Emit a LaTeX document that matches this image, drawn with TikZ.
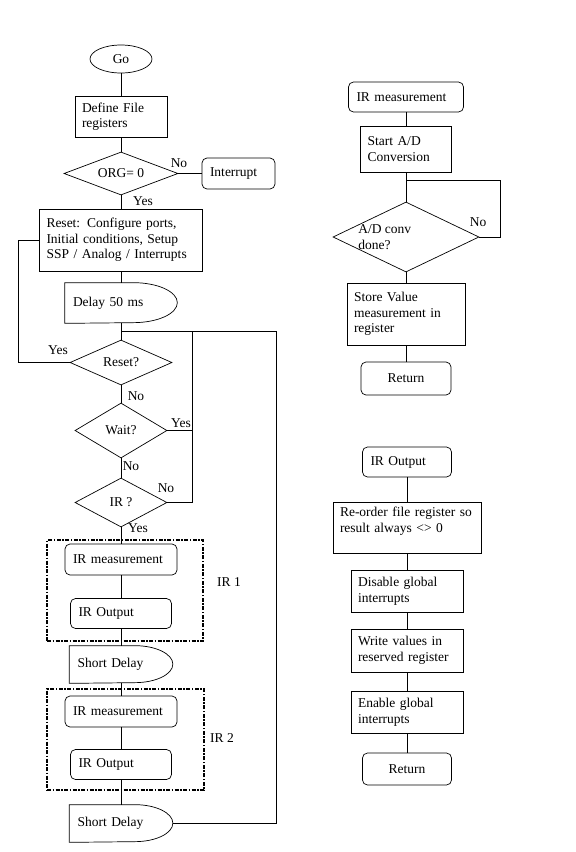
\documentclass[tikz,border=0pt]{standalone}
\usepackage{fontspec}
\setmainfont{Liberation Serif}
\usepackage{tikz}
\usetikzlibrary{shapes.geometric}

\begin{document}
\begin{tikzpicture}[x=1pt, y=-1pt, line width=0.7pt,
    every node/.style={font=\fontsize{13.5}{15.5}\selectfont},
    procbox/.style={draw, rectangle, align=left, inner xsep=7pt},
    subbox/.style={draw, rectangle, rounded corners=5pt, align=left, inner xsep=8pt},
    decision/.style={draw, diamond, shape aspect=2.5, inner sep=0pt},
    delaybox/.style={rectangle, align=left, inner xsep=8pt},
    groupbox/.style={draw, rectangle, line width=1.2pt, dash pattern=on 4pt off 1.5pt on 1.5pt off 1.5pt},
    lbl/.style={inner sep=0pt}]
    \useasboundingbox (0,0) rectangle (576,852);

    % main program
    \node[draw, ellipse, minimum width=62pt, minimum height=28pt, inner sep=0pt] (go) at (121,59) {Go};
    \node[procbox, minimum width=92pt, minimum height=41pt, text width=78pt] (def) at (121,116.5) {Define File\\registers};
    \node[decision, minimum width=114pt, minimum height=43pt] (org) at (121,173.5) {ORG= 0};
    \node[subbox, minimum width=73pt, minimum height=31pt, text width=57pt] (intr) at (238.5,173.5) {Interrupt};
    \node[procbox, minimum width=163pt, minimum height=62pt, text width=149pt] (reset) at (121,240) {Reset: Configure ports,\\Initial conditions, Setup\\SSP / Analog / Interrupts};
    \node[delaybox, minimum width=112pt, minimum height=40pt, text width=96pt] (dly) at (121,303) {Delay 50 ms};
    \coordinate (jn) at (121,331);
    \coordinate (jr) at (192,331);
    \coordinate (jfar) at (276,331);
    \node[decision, minimum width=102pt, minimum height=45pt] (rst) at (121,362.5) {Reset?};
    \node[decision, minimum width=92pt, minimum height=55pt] (wt) at (121,430.5) {Wait?};
    \node[decision, minimum width=92pt, minimum height=49pt] (irq) at (121,502.5) {IR ?};

    % IR 1 and IR 2 groups
    \node[groupbox, minimum width=156pt, minimum height=101pt] (grpa) at (125,590.5) {};
    \node[subbox, minimum width=112pt, minimum height=31pt, text width=96pt] (irma) at (121,559.5) {IR measurement};
    \node[subbox, minimum width=101pt, minimum height=30pt, text width=85pt] (iroa) at (121,613.5) {IR Output};
    \node[delaybox, minimum width=103pt, minimum height=37pt, text width=87pt] (sda) at (121,664.5) {Short Delay};
    \node[groupbox, minimum width=157pt, minimum height=101pt] (grpb) at (125.5,739.5) {};
    \node[subbox, minimum width=112pt, minimum height=31pt, text width=96pt] (irmb) at (121,711.5) {IR measurement};
    \node[subbox, minimum width=101pt, minimum height=30pt, text width=85pt] (irob) at (121,764.5) {IR Output};
    \node[delaybox, minimum width=103pt, minimum height=37pt, text width=87pt] (sdb) at (121,823.5) {Short Delay};

    % delay outlines
    \foreach \n/\rx/\ry in {dly/44/20, sda/38/18.5, sdb/38/18.5}
        \draw (\n.north west) -- ([xshift=-\rx pt]\n.north east)
            arc[start angle=90, end angle=-90, x radius=\rx pt, y radius=\ry pt] -- (\n.south west) -- cycle;

    % labels
    \node[lbl] (orgno) at (179,163) {No};
    \node[lbl] (orgyes) at (143,201) {Yes};
    \node[lbl] (rstyes) at (58,350) {Yes};
    \node[lbl] (rstno) at (136,396) {No};
    \node[lbl] (wtyes) at (181,423) {Yes};
    \node[lbl] (wtno) at (131,466) {No};
    \node[lbl] (irqno) at (166,488) {No};
    \node[lbl] (irqyes) at (138,528) {Yes};
    \node[lbl] (grpalbl) at (229,582) {IR 1};
    \node[lbl] (grpblbl) at (222,738) {IR 2};

    % IR measurement routine
    \node[subbox, minimum width=115pt, minimum height=30pt, text width=99pt] (irm) at (406,97) {IR measurement};
    \node[procbox, minimum width=91pt, minimum height=46pt, text width=77pt] (adstart) at (406,149) {Start A/D\\Conversion};
    \coordinate (adj) at (406,180);
    \coordinate (adr) at (500,180);
    \node[decision, minimum width=146pt, minimum height=70pt] (adc) at (406,237) {};
    \node[align=left, anchor=west, inner sep=0pt] (adctxt) at (358,237) {A/D conv\\done?};
    \node[lbl] (adcno) at (478,222) {No};
    \node[procbox, minimum width=118pt, minimum height=62pt, text width=104pt] (store) at (406,314) {Store Value\\measurement in\\register};
    \node[subbox, align=center, minimum width=90pt, minimum height=33pt, text width=74pt] (reta) at (406,378.5) {Return};

    % IR output routine
    \node[subbox, minimum width=89pt, minimum height=30pt, text width=73pt] (iro) at (407,462) {IR Output};
    \node[procbox, minimum width=148pt, minimum height=51pt, text width=134pt] (reord) at (407,527.5) {Re-order file register so\\result always <> 0\\\mbox{}};
    \node[procbox, minimum width=112pt, minimum height=42pt, text width=98pt] (disgi) at (407,591) {Disable global\\interrupts};
    \node[procbox, minimum width=112pt, minimum height=43pt, text width=98pt] (wrval) at (407,650.5) {Write values in\\reserved register};
    \node[procbox, minimum width=112pt, minimum height=42pt, text width=98pt] (enbgi) at (407,712) {Enable global\\interrupts};
    \node[subbox, align=center, minimum width=89pt, minimum height=32pt, text width=73pt] (retb) at (407,769) {Return};

    % connectors
    \foreach \a/\b in {go/def, def/org, org/intr, org/reset, reset/dly, dly/rst, rst/wt, wt/irq,
        irq/irma, irma/iroa, iroa/sda, sda/irmb, irmb/irob, irob/sdb,
        irm/adstart, adstart/adc, adc/store, store/reta,
        iro/reord, reord/disgi, disgi/wrval, wrval/enbgi, enbgi/retb}
        \draw (\a) -- (\b);
    \draw (rst.west) -- ++(-51,0) |- (reset.west);
    \draw (jn) -- (jfar) |- (sdb.east);
    \draw (jr) |- (irq.east);
    \draw (wt.east) -- (wt.east -| jr);
    \draw (adj) -- (adr) |- (adc.east);
\end{tikzpicture}
\end{document}
